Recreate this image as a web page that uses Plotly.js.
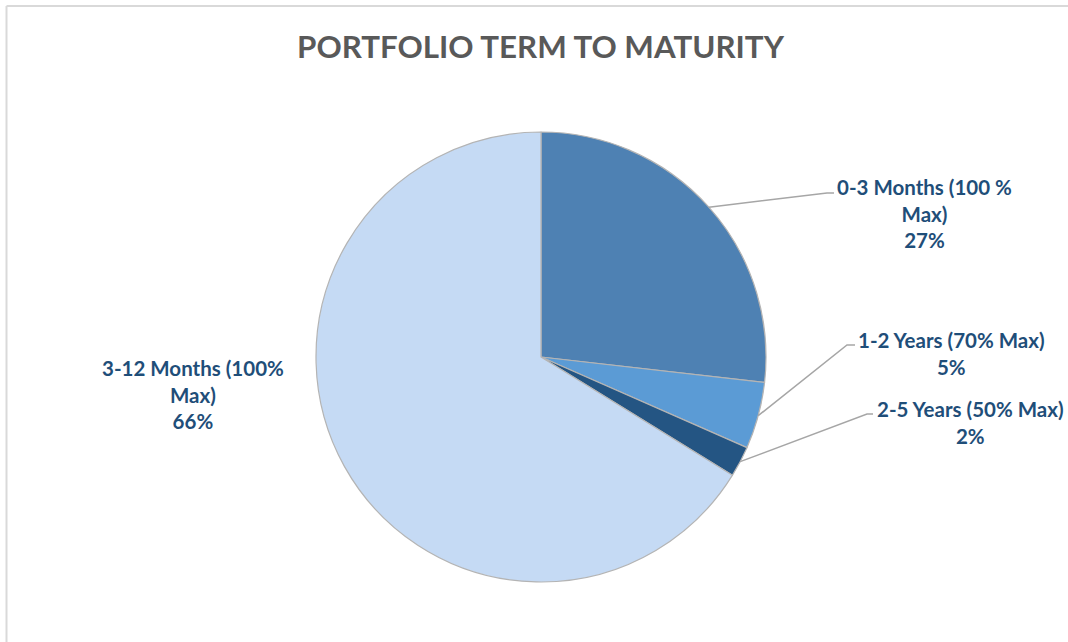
<!DOCTYPE html>
<html>
<head>
<meta charset="utf-8">
<script src="https://cdn.plot.ly/plotly-3.0.1.min.js"></script>
<style>html,body{margin:0;padding:0;background:#fff;}#chart{width:1068px;height:642px;}</style>
</head>
<body>
<div id="chart"></div>
<script>
// ---- data ----
var categories = ["0-3 Months (100 %<br>Max)", "1-2 Years (70% Max)", "2-5 Years (50% Max)", "3-12 Months (100%<br>Max)"];
var shares = [26.8, 4.8, 2.2, 66.2];
var sliceColors = ["#4E81B3", "#5B9BD5", "#245583", "#C5DAF4"];

// ---- layout helpers (pixels) ----
var W = 1068, H = 642;
var cx = 541, cy = 357, R = 225;
// label centres and leader-line elbows
var labelPos = [
  {x: 924, y: 214, elbow: [827, 193], end: [834, 193]},
  {x: 951, y: 354, elbow: [847, 345], end: [855, 345]},
  {x: 971, y: 422, elbow: [867, 414], end: [873, 414]},
  {x: 193, y: 394, elbow: null, end: null}
];

function px(x){ return x / W; }
function py(y){ return 1 - y / H; }

var total = shares.reduce(function(a,b){return a+b;}, 0);
var annotations = [], shapes = [];
var cum = 0;
for (var i = 0; i < shares.length; i++) {
  var mid = (cum + shares[i] / 2) / total * 2 * Math.PI;
  cum += shares[i];
  var tx = cx + R * Math.sin(mid), ty = cy - R * Math.cos(mid);
  var pct = Math.round(shares[i] / total * 100);
  var lp = labelPos[i];
  annotations.push({
    xref: "paper", yref: "paper", x: px(lp.x), y: py(lp.y),
    xanchor: "center", yanchor: "middle", showarrow: false, align: "center",
    text: "<b>" + categories[i] + "<br>" + pct + "%</b>",
    font: {family: "Lato, 'Open Sans', sans-serif", size: 20.5, color: "#1F4E79"}
  });
  if (lp.elbow) {
    shapes.push({
      type: "path", xref: "paper", yref: "paper",
      path: "M " + px(tx) + " " + py(ty) + " L " + px(lp.elbow[0]) + " " + py(lp.elbow[1]) + " L " + px(lp.end[0]) + " " + py(lp.end[1]),
      line: {color: "#A6A6A6", width: 1.5}
    });
  }
}
// chart-area border (left and top)
shapes.push({type: "line", xref: "paper", yref: "paper", x0: px(6.5), x1: px(6.5), y0: 0, y1: py(6), line: {color: "#D9D9D9", width: 2}});
shapes.push({type: "line", xref: "paper", yref: "paper", x0: px(6.5), x1: 1, y0: py(6), y1: py(6), line: {color: "#D9D9D9", width: 2}});

var trace = {
  type: "pie",
  labels: categories,
  values: shares,
  sort: false,
  direction: "clockwise",
  rotation: 0,
  textinfo: "none",
  hoverinfo: "label+percent",
  marker: {colors: sliceColors, line: {color: "#B4B4B4", width: 1.2}},
  domain: {x: [px(cx - R), px(cx + R)], y: [py(cy + R), py(cy - R)]}
};

var layout = {
  width: W, height: H,
  margin: {l: 0, r: 0, t: 0, b: 0},
  paper_bgcolor: "#FFFFFF",
  showlegend: false,
  title: {
    text: "<b>PORTFOLIO TERM TO MATURITY</b>",
    font: {family: "Lato, 'Open Sans', sans-serif", size: 31.3, color: "#595959"},
    xref: "container", yref: "container", x: 540.5 / W, y: 1 - 47 / H,
    xanchor: "center", yanchor: "middle"
  },
  annotations: annotations,
  shapes: shapes
};

Plotly.newPlot("chart", [trace], layout, {displayModeBar: false, staticPlot: true});
</script>
</body>
</html>
